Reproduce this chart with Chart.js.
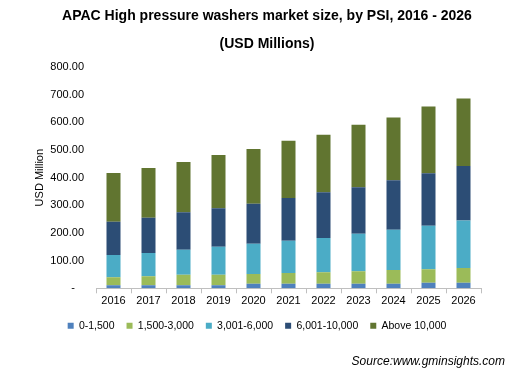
<!DOCTYPE html>
<html>
<head>
<meta charset="utf-8">
<script src="https://cdn.jsdelivr.net/npm/chart.js@4"></script>
<style>
  html, body { margin: 0; padding: 0; background: #fff; }
  #wrap { position: relative; width: 524px; height: 379px; overflow: hidden; }
  canvas { position: absolute; left: 0; top: 0; }
  .title { position: absolute; left: 0; width: 524px; text-align: center; font: bold 14px "Liberation Sans", Arial, sans-serif; color: #000; }
  #source { position: absolute; right: 19px; top: 354px; font: italic 12px "Liberation Sans", Arial, sans-serif; color: #000; }
</style>
</head>
<body>
<div id="wrap">
  <canvas id="c" width="524" height="379"></canvas>
  <div class="title" style="top:7px;left:5px">APAC High pressure washers market size, by PSI, 2016 - 2026</div>
  <div class="title" style="top:35px;left:5px">(USD Millions)</div>
  <div id="source">Source:www.gminsights.com</div>
</div>
<script>
const years = ['2016','2017','2018','2019','2020','2021','2022','2023','2024','2025','2026'];
const seriesNames = ['0-1,500','1,500-3,000','3,001-6,000','6,001-10,000','Above 10,000'];
const psi0to1500      = [11, 11, 11, 11, 16, 16, 16, 16, 16, 20, 20];
const psi1500to3000   = [29, 33, 38, 38, 36, 39, 42, 46, 50, 49, 53];
const psi3001to6000   = [80, 84, 90, 101, 109, 117, 124, 135, 146, 157, 172];
const psi6001to10000  = [121, 127, 136, 139, 145, 154, 165, 168, 179, 190, 197];
const psiAbove10000   = [176, 180, 182, 193, 198, 207, 208, 226, 226, 241, 244];
const yTicks = [0, 100, 200, 300, 400, 500, 600, 700, 800];
const colors = ['#4F81BD', '#9BBB59', '#4BACC6', '#2C4D75', '#617530'];

const values = [psi0to1500, psi1500to3000, psi3001to6000, psi6001to10000, psiAbove10000];
const font = { family: '"Liberation Sans", Arial, sans-serif', size: 11 };

new Chart(document.getElementById('c'), {
  type: 'bar',
  data: {
    labels: years,
    datasets: seriesNames.map((n, i) => ({
      label: n,
      data: values[i],
      backgroundColor: colors[i],
      borderWidth: 0,
      barPercentage: 0.4,
      categoryPercentage: 1.0
    }))
  },
  options: {
    responsive: false,
    animation: false,
    layout: { padding: { left: 33, right: 43, top: 67, bottom: 38 } },
    plugins: {
      title: { display: false },
      tooltip: { enabled: false },
      legend: {
        position: 'bottom',
        labels: {
          boxWidth: 6, boxHeight: 6, padding: 12,
          color: '#000',
          font: { family: font.family, size: 10.5 }
        }
      }
    },
    scales: {
      x: {
        stacked: true,
        grid: { display: true, drawOnChartArea: false, offset: true, tickLength: 5, color: '#BFBFBF' },
        border: { display: true, color: '#BFBFBF' },
        ticks: { color: '#000', font: font, padding: 1, maxRotation: 0 }
      },
      y: {
        stacked: true,
        min: 0, max: 800,
        afterFit: s => { s.width = 63; },
        afterBuildTicks: s => { s.ticks = yTicks.map(v => ({ value: v })); },
        grid: { display: false, drawTicks: false },
        border: { display: false },
        title: { display: true, text: 'USD Million', color: '#000', font: font, padding: 0 },
        ticks: {
          color: '#000', font: font, padding: 12,
          callback: v => v === 0 ? '-   ' : v.toFixed(2)
        }
      }
    }
  }
});
</script>
</body>
</html>
